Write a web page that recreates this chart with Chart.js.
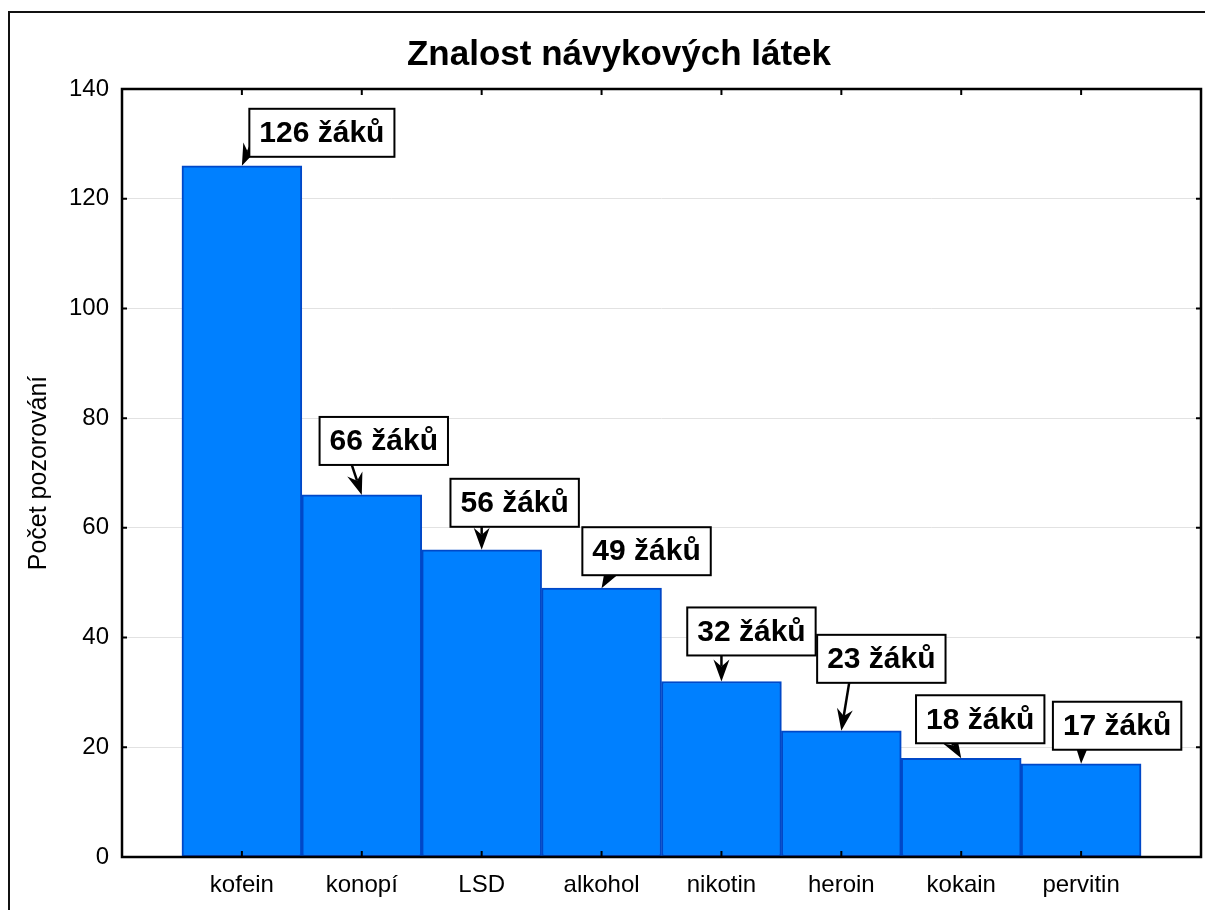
<!DOCTYPE html>
<html>
<head>
<meta charset="utf-8">
<script src="https://cdn.jsdelivr.net/npm/chart.js@4"></script>
<style>
  html, body { margin: 0; padding: 0; background: #fff; overflow: hidden; }
  #wrap { position: relative; width: 1205px; height: 910px; }
</style>
</head>
<body>
<div id="wrap"><canvas id="chart" width="1205" height="910"></canvas></div>
<script>
/* 데이터 */
const titleText = "Znalost návykových látek";
const yTitle = "Počet pozorování";
const categories = ["kofein", "konopí", "LSD", "alkohol", "nikotin", "heroin", "kokain", "pervitin"];
const counts = [126, 66, 56, 49, 32, 23, 18, 17];
const noteTexts = ["126 žáků", "66 žáků", "56 žáků", "49 žáků", "32 žáků", "23 žáků", "18 žáků", "17 žáků"];
const yTicks = [0, 20, 40, 60, 80, 100, 120, 140];

// 말풍선 위치 (화살표 끝 기준 상대 오프셋, 스타일)
const boxOffsets = [[80, -33], [22, -54], [33, -47], [45, -37], [30, -50], [40, -72], [19, -39], [36, -38]];
const tailOffsets = [[10, -23], [-10, -30], [0, -24], [11, -19], [0, -26], [8, -49], [-12, -20], [1, -22]];

const FONT = "'Liberation Sans', Arial, Helvetica, sans-serif";

// 제목, 외곽 프레임, 눈금, 말풍선 그리기
const statPlugin = {
  id: "statPlugin",
  beforeDraw(chart) {
    const ctx = chart.ctx;
    ctx.save();
    ctx.fillStyle = "#fff";
    ctx.fillRect(0, 0, chart.width, chart.height);
    ctx.strokeStyle = "#111";
    ctx.lineWidth = 2;
    ctx.strokeRect(9, 12, 1400, 1200);
    ctx.fillStyle = "#000";
    ctx.font = "bold 35px " + FONT;
    ctx.textAlign = "center";
    ctx.textBaseline = "middle";
    ctx.fillText(titleText, 619, 55);
    ctx.restore();
  },
  afterDraw(chart) {
    const { ctx, chartArea: a } = chart;
    const x = chart.scales.x, y = chart.scales.y;
    ctx.save();
    // 플롯 테두리
    ctx.strokeStyle = "#000";
    ctx.lineWidth = 2.5;
    ctx.strokeRect(a.left, a.top, a.right - a.left, a.bottom - a.top);
    // 안쪽 눈금
    ctx.lineWidth = 2;
    ctx.beginPath();
    categories.forEach((c, i) => {
      const px = x.getPixelForValue(i + 1);
      ctx.moveTo(px, a.bottom); ctx.lineTo(px, a.bottom - 6);
      ctx.moveTo(px, a.top); ctx.lineTo(px, a.top + 6);
    });
    yTicks.forEach((v) => {
      const py = y.getPixelForValue(v);
      ctx.moveTo(a.left, py); ctx.lineTo(a.left + 5, py);
      ctx.moveTo(a.right, py); ctx.lineTo(a.right - 5, py);
    });
    ctx.stroke();

    // 말풍선 + 화살표
    const meta = chart.getDatasetMeta(0);
    ctx.font = "bold 30px " + FONT;
    meta.data.forEach((bar, i) => {
      const tipX = bar.x, tipY = bar.y;
      const tailX = tipX + tailOffsets[i][0], tailY = tipY + tailOffsets[i][1];
      let dx = tipX - tailX, dy = tipY - tailY;
      const len = Math.hypot(dx, dy);
      dx /= len; dy /= len;
      const nx = -dy, ny = dx;
      const L = 22, W = 8, N = 15;
      ctx.strokeStyle = "#000";
      ctx.fillStyle = "#000";
      ctx.lineWidth = 2.5;
      ctx.beginPath();
      ctx.moveTo(tailX, tailY);
      ctx.lineTo(tipX - dx * N, tipY - dy * N);
      ctx.stroke();
      ctx.beginPath();
      ctx.moveTo(tipX, tipY);
      ctx.lineTo(tipX - dx * L + nx * W, tipY - dy * L + ny * W);
      ctx.lineTo(tipX - dx * N, tipY - dy * N);
      ctx.lineTo(tipX - dx * L - nx * W, tipY - dy * L - ny * W);
      ctx.closePath();
      ctx.fill();

      const tw = ctx.measureText(noteTexts[i]).width;
      const bw = tw + 20, bh = 48;
      const cx = tipX + boxOffsets[i][0], cy = tipY + boxOffsets[i][1];
      ctx.lineWidth = 2;
      ctx.fillStyle = "#fff";
      ctx.fillRect(cx - bw / 2, cy - bh / 2, bw, bh);
      ctx.strokeRect(cx - bw / 2, cy - bh / 2, bw, bh);
      ctx.fillStyle = "#000";
      ctx.textAlign = "center";
      ctx.textBaseline = "middle";
      ctx.fillText(noteTexts[i], cx, cy + 1);
    });
    ctx.restore();
  }
};

const ctx = document.getElementById("chart").getContext("2d");
new Chart(ctx, {
  type: "bar",
  data: {
    datasets: [{
      data: counts.map((v, i) => ({ x: i + 1, y: v })),
      backgroundColor: "#0080ff",
      borderColor: "#0048c8",
      borderWidth: 2,
      borderSkipped: false,
      barPercentage: 1,
      categoryPercentage: 1
    }]
  },
  options: {
    responsive: false,
    animation: false,
    layout: { padding: { top: 89, right: 4, left: 0, bottom: 0 } },
    plugins: { legend: { display: false }, tooltip: { enabled: false } },
    scales: {
      x: {
        type: "linear",
        min: 0,
        max: 9,
        offset: false,
        afterFit: (s) => { s.height = 53; s.paddingLeft = 0; s.paddingRight = 0; },
        grid: { display: false, drawTicks: false, offset: false },
        border: { display: false },
        ticks: {
          stepSize: 1,
          autoSkip: false,
          maxRotation: 0,
          padding: 14,
          color: "#000",
          font: { size: 24, family: FONT },
          callback: (v) => categories[v - 1] || ""
        }
      },
      y: {
        min: 0,
        max: 140,
        afterFit: (s) => { s.width = 122; },
        grid: { color: "#e2e2e2", lineWidth: 1, drawTicks: false },
        border: { display: false },
        ticks: {
          stepSize: 20,
          padding: 13,
          color: "#000",
          font: { size: 24, family: FONT }
        },
        title: {
          display: true,
          text: yTitle,
          color: "#000",
          font: { size: 25, family: FONT },
          padding: { top: 24, bottom: 0 }
        }
      }
    }
  },
  plugins: [statPlugin]
});
</script>
</body>
</html>
